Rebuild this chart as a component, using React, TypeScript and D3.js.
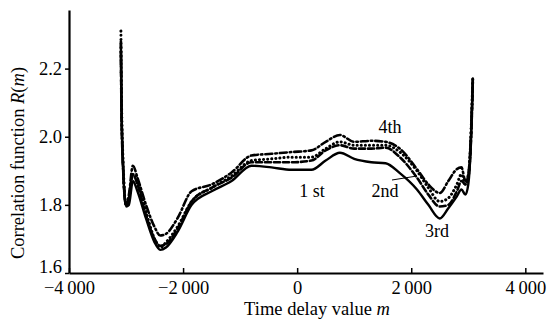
import React, { useEffect, useRef } from "react";
import * as d3 from "d3";

const delays = [-3090, -3080, -3050, -3000, -2950, -2880, -2800, -2650, -2500, -2400, -2300, -2100, -1850, -1500, -1150, -800, -450, -100, 250, 500, 750, 1000, 1300, 1550, 1800, 2100, 2300, 2500, 2650, 2800, 2880, 2950, 3000, 3050, 3080];

const first = [2.27, 2.1, 1.9, 1.795, 1.8, 1.87, 1.84, 1.76, 1.69, 1.668, 1.675, 1.72, 1.8, 1.84, 1.87, 1.915, 1.91, 1.903, 1.903, 1.93, 1.953, 1.935, 1.925, 1.922, 1.893, 1.845, 1.8, 1.76, 1.79, 1.825, 1.845, 1.83, 1.86, 2.0, 2.17];
const second = [2.25, 2.08, 1.9, 1.8, 1.82, 1.89, 1.86, 1.77, 1.7, 1.68, 1.685, 1.73, 1.81, 1.85, 1.88, 1.925, 1.925, 1.925, 1.93, 1.96, 1.975, 1.965, 1.965, 1.968, 1.94, 1.88, 1.83, 1.795, 1.8, 1.84, 1.87, 1.86, 1.88, 2.0, 2.16];
const third = [2.31, 2.12, 1.92, 1.8, 1.82, 1.89, 1.87, 1.78, 1.7, 1.675, 1.69, 1.735, 1.81, 1.85, 1.885, 1.93, 1.935, 1.94, 1.94, 1.965, 1.985, 1.975, 1.975, 1.975, 1.955, 1.9, 1.85, 1.81, 1.82, 1.86, 1.89, 1.86, 1.88, 2.02, 2.18];
const fourth = [2.28, 2.1, 1.91, 1.8, 1.83, 1.915, 1.88, 1.8, 1.735, 1.71, 1.715, 1.76, 1.84, 1.86, 1.895, 1.945, 1.95, 1.955, 1.96, 1.985, 2.005, 1.985, 1.988, 1.985, 1.965, 1.905, 1.86, 1.835, 1.87, 1.905, 1.91, 1.87, 1.89, 2.02, 2.17];

const xTicks = [-4000, -2000, 0, 2000, 4000];
const yTicks = [1.6, 1.8, 2.0, 2.2];

const series = [
    {name: "1 st", values: first, dash: null, width: 2.4},
    {name: "2nd", values: second, dash: "6 3", width: 2.6},
    {name: "3rd", values: third, dash: "0.1 4", width: 3},
    {name: "4th", values: fourth, dash: "7 3 1.5 3", width: 2.6},
];

export default function App() {
    const svgRef = useRef(null);
    const width = 551;
    const height = 321;
    const margin = {top: 10, right: 8, bottom: 48, left: 69};
    const font = "'Liberation Serif', 'Times New Roman', serif";

    useEffect(() => {
        const svg = d3.select(svgRef.current);
        svg.selectAll("*").remove();

        const x = d3.scaleLinear()
            .domain([-4000, 4310])
            .range([margin.left, width - margin.right]);
        const y = d3.scaleLinear()
            .domain([1.6, 2.372])
            .range([height - margin.bottom, margin.top]);

        const fmt = v => {
            const s = d3.format(",")(Math.abs(v)).replace(",", "\u2009");
            return (v < 0 ? "\u2212" : "") + s;
        };

        // lines
        const line = d3.line()
            .x(d => x(d[0]))
            .y(d => y(d[1]))
            .curve(d3.curveMonotoneX);

        series.forEach(s => {
            const pts = delays.map((m, i) => [m, s.values[i]]);
            svg.append("path")
                .attr("d", line(pts))
                .attr("fill", "none")
                .attr("stroke", "#000")
                .attr("stroke-width", s.width)
                .attr("stroke-linecap", "round")
                .attr("stroke-linejoin", "round")
                .attr("stroke-dasharray", s.dash);
        });

        // x axis
        const xAxis = svg.append("g")
            .attr("transform", `translate(0, ${height - margin.bottom})`)
            .call(d3.axisBottom(x).tickValues(xTicks).tickSizeInner(-5).tickSizeOuter(0).tickPadding(7).tickFormat(fmt));
        xAxis.select(".domain").attr("stroke-width", 2.2);
        xAxis.selectAll(".tick line").attr("stroke-width", 1.5);
        xAxis.selectAll("text").attr("font-size", 18.5).attr("font-family", font).attr("fill", "#000")
            .attr("y", 8).attr("dy", "0.68em");

        // y axis
        const yAxis = svg.append("g")
            .attr("transform", `translate(${margin.left}, 0)`)
            .call(d3.axisLeft(y).tickValues(yTicks).tickSize(4).tickSizeOuter(0).tickPadding(3).tickFormat(d3.format(".1f")));
        yAxis.select(".domain").attr("stroke-width", 2.2);
        yAxis.selectAll(".tick line").attr("stroke-width", 1.5);
        yAxis.selectAll("text").attr("font-size", 18.5).attr("font-family", font).attr("fill", "#000")
            .attr("y", d => d === 1.6 ? -6 : 0);

        // titles
        const xt = svg.append("text")
            .attr("x", 317)
            .attr("y", 315)
            .attr("text-anchor", "middle")
            .attr("font-size", 18.5)
            .attr("font-family", font);
        xt.append("tspan").text("Time delay value ");
        xt.append("tspan").attr("font-style", "italic").text("m");

        const yt = svg.append("text")
            .attr("transform", "translate(24, 163) rotate(-90)")
            .attr("text-anchor", "middle")
            .attr("font-size", 18.5)
            .attr("font-family", font);
        yt.append("tspan").text("Correlation function ");
        yt.append("tspan").attr("font-style", "italic").text("R");
        yt.append("tspan").text("(");
        yt.append("tspan").attr("font-style", "italic").text("m");
        yt.append("tspan").text(")");

        // curve labels
        const labels = [
            {text: "4th", x: 390, y: 133},
            {text: "1 st", x: 312, y: 197},
            {text: "2nd", x: 385, y: 197},
            {text: "3rd", x: 437, y: 237},
        ];
        labels.forEach(l => {
            svg.append("text")
                .attr("x", l.x)
                .attr("y", l.y)
                .attr("text-anchor", "middle")
                .attr("font-size", 18)
                .attr("font-family", font)
                .text(l.text);
        });

        svg.append("line")
            .attr("x1", 392).attr("y1", 180)
            .attr("x2", 417).attr("y2", 176)
            .attr("stroke", "#000")
            .attr("stroke-width", 1);
    }, []);

    return <svg ref={svgRef} width={width} height={height}
                style={{position: "absolute", left: 0, top: 0, background: "#fff"}}/>;
}
